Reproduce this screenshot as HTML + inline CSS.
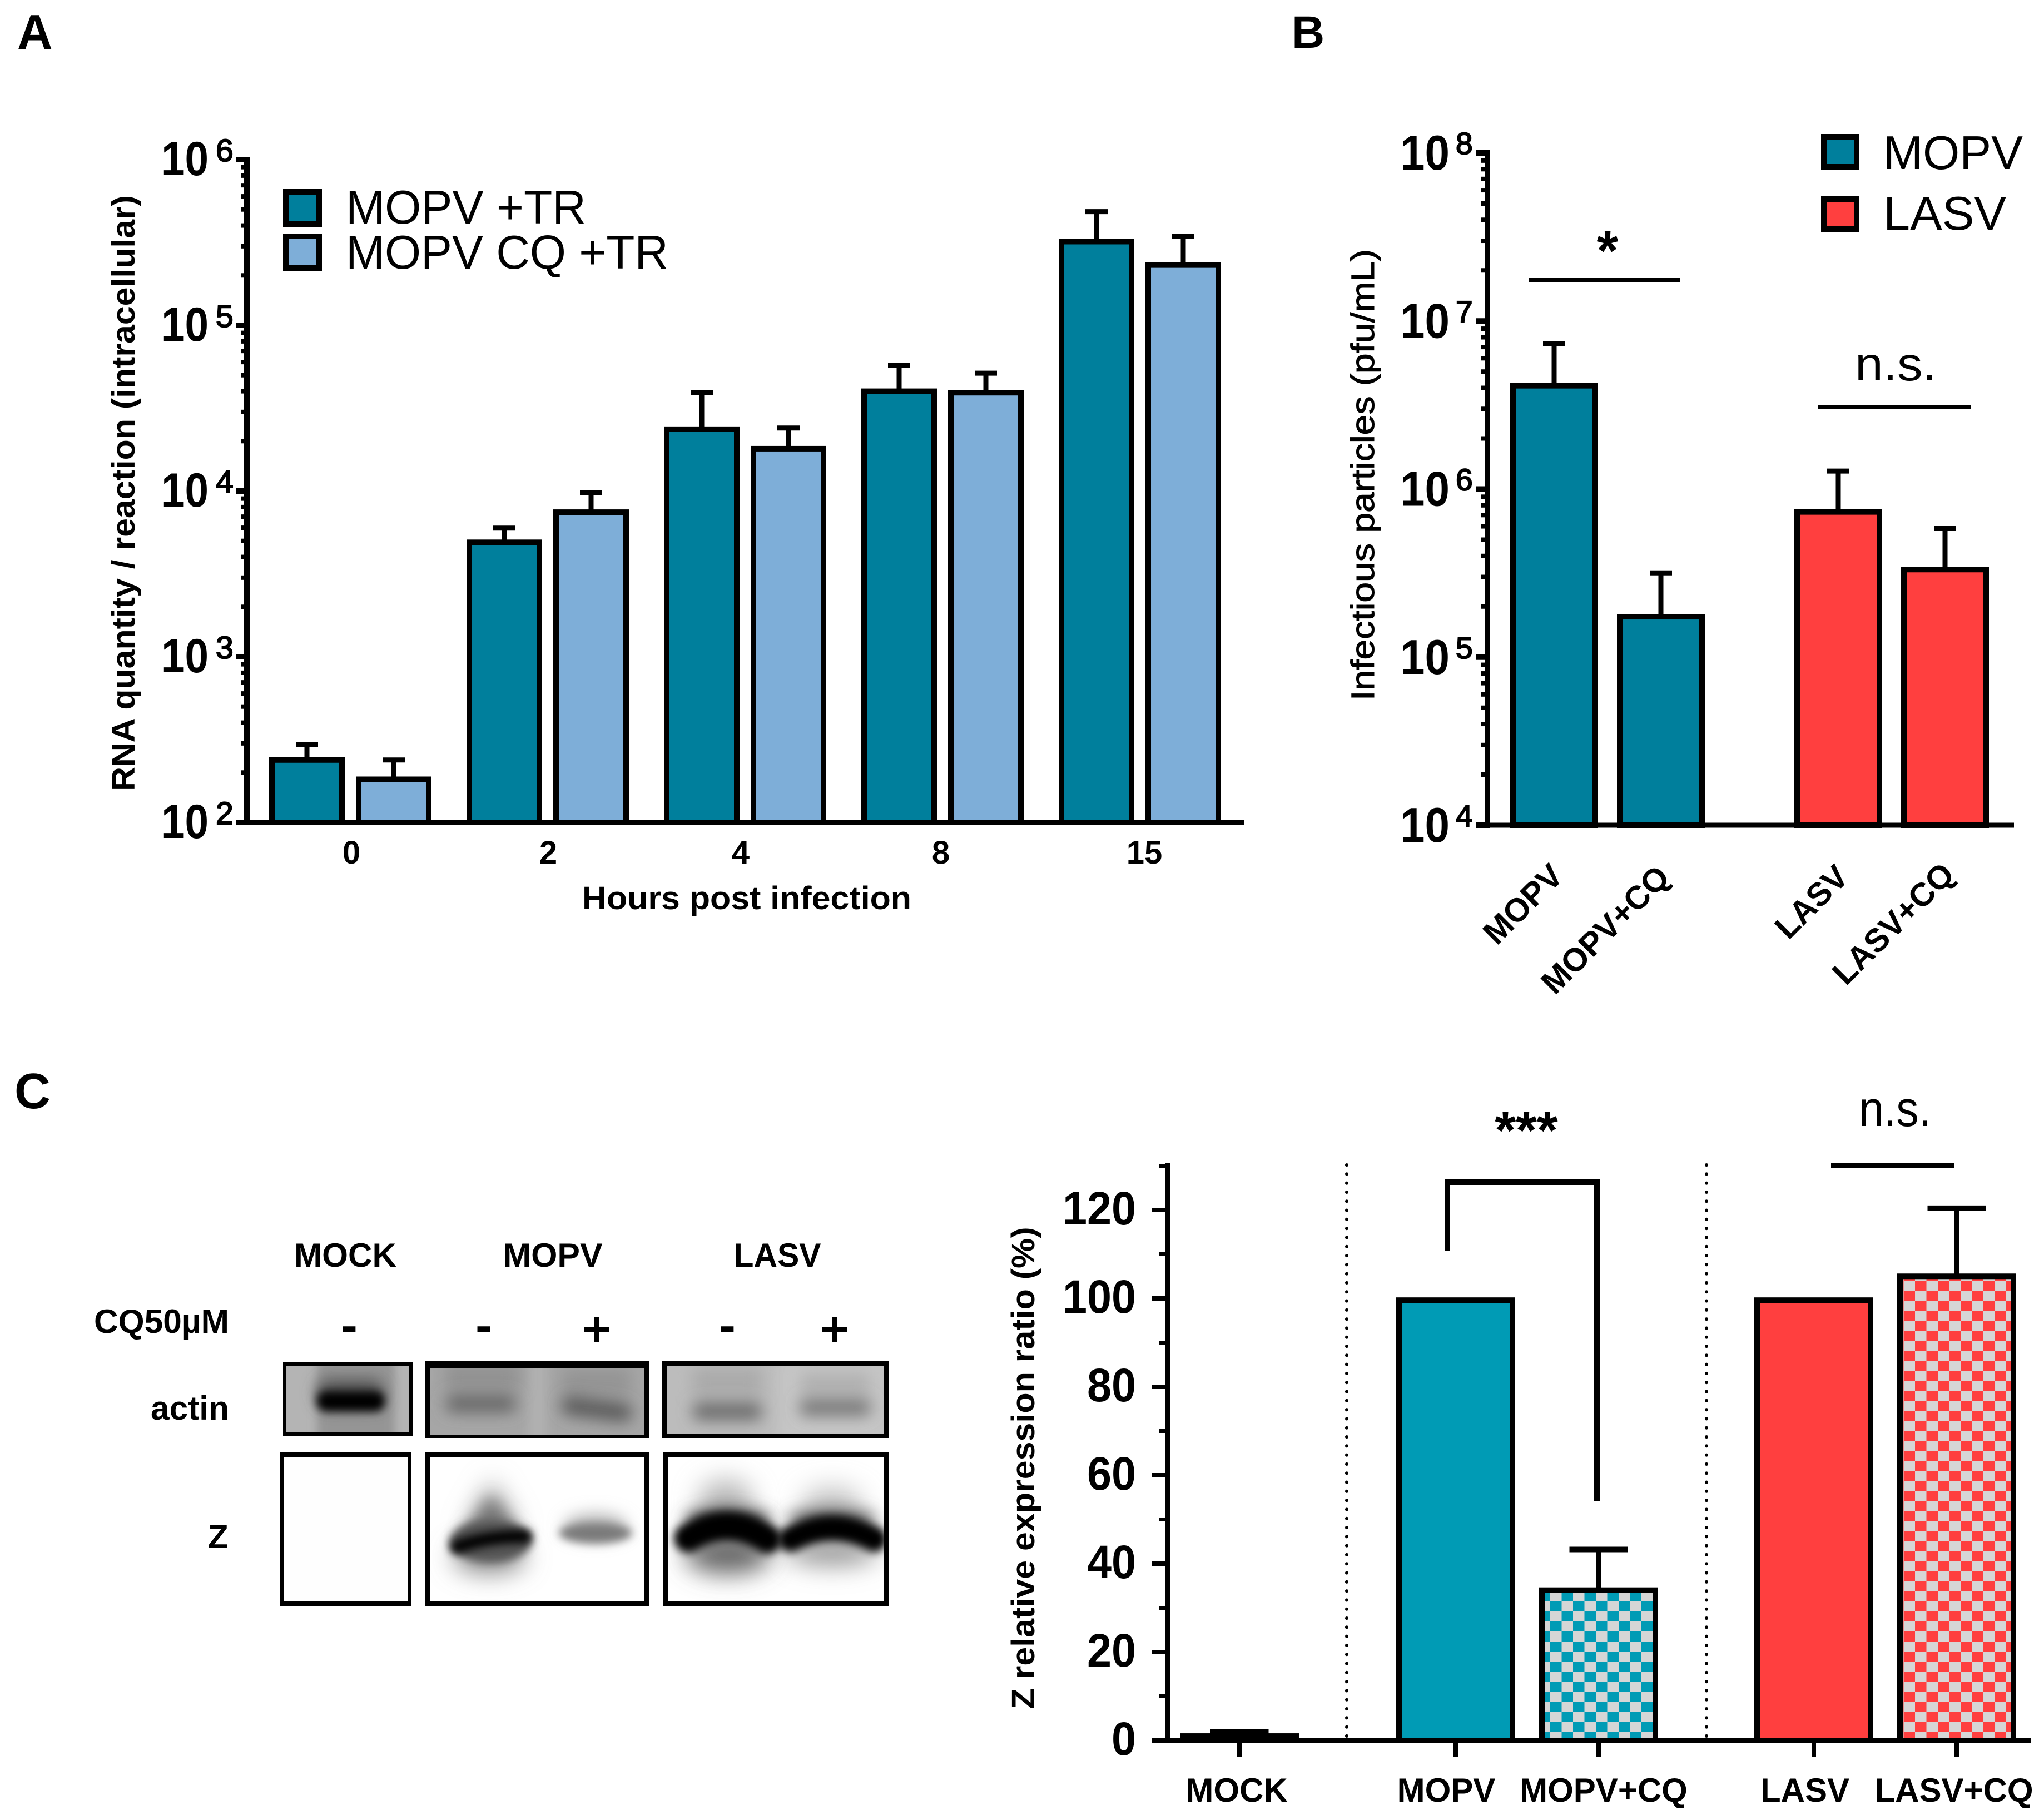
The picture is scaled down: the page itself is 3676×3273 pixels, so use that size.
<!DOCTYPE html>
<html lang="en">
<head>
<meta charset="utf-8">
<title>Chloroquine effect on MOPV and LASV</title>
<style>
html,body{margin:0;padding:0;background:#fff}
svg{display:block;font-family:"Liberation Sans",sans-serif}
</style>
</head>
<body>
<svg id="fig" xmlns="http://www.w3.org/2000/svg" width="3676" height="3273" viewBox="0 0 3676 3273">
<defs>
  <pattern id="chk-teal" width="41" height="36" patternUnits="userSpaceOnUse">
    <rect width="41" height="36" fill="#d6d6d6"/><rect width="20.5" height="18" fill="#009bb5"/><rect x="20.5" y="18" width="20.5" height="18" fill="#009bb5"/>
  </pattern>
  <pattern id="chk-red" width="41" height="36" patternUnits="userSpaceOnUse">
    <rect width="41" height="36" fill="#d6d6d6"/><rect width="20.5" height="18" fill="#ff3f3f"/><rect x="20.5" y="18" width="20.5" height="18" fill="#ff3f3f"/>
  </pattern>
  <filter id="blur-s" filterUnits="userSpaceOnUse" x="400" y="2400" width="1300" height="560"><feGaussianBlur stdDeviation="8"/></filter>
  <filter id="blur-m" filterUnits="userSpaceOnUse" x="400" y="2400" width="1300" height="560"><feGaussianBlur stdDeviation="14"/></filter>
  <filter id="blur-l" filterUnits="userSpaceOnUse" x="400" y="2400" width="1300" height="560"><feGaussianBlur stdDeviation="22"/></filter>
  <clipPath id="c-a1"><rect x="509" y="2450" width="233" height="133"/></clipPath>
  <clipPath id="c-a2"><rect x="764" y="2448" width="404" height="138"/></clipPath>
  <clipPath id="c-a3"><rect x="1191" y="2448" width="407" height="138"/></clipPath>
  <clipPath id="c-z2"><rect x="764" y="2612" width="404" height="276"/></clipPath>
  <clipPath id="c-z3"><rect x="1192" y="2612" width="406" height="276"/></clipPath>
</defs>

<text x="31" y="88" font-size="88" font-weight="700">A</text>
<text x="2323" y="86" font-size="82" font-weight="700">B</text>
<text x="26" y="1993" font-size="90" font-weight="700">C</text>

<!-- Panel A static text and legend -->
<g>
  <text transform="translate(242,887) rotate(-90)" text-anchor="middle" font-size="58" font-weight="700" textLength="1072" lengthAdjust="spacingAndGlyphs">RNA quantity / reaction (intracellular)</text>
  <text x="1047" y="1635" font-size="58" font-weight="700" textLength="592" lengthAdjust="spacingAndGlyphs">Hours post infection</text>
  <rect x="514" y="345" width="60" height="58" fill="#007f9c" stroke="#000" stroke-width="10"/>
  <text x="622" y="402" font-size="85" textLength="432" lengthAdjust="spacingAndGlyphs">MOPV +TR</text>
  <rect x="514" y="425" width="60" height="57" fill="#7eaed8" stroke="#000" stroke-width="10"/>
  <text x="622" y="483" font-size="85" textLength="580" lengthAdjust="spacingAndGlyphs">MOPV CQ +TR</text>
</g>

<!-- Panel B static text and legend -->
<g>
  <text transform="translate(2471,854) rotate(-90)" text-anchor="middle" font-size="58" stroke="#000" stroke-width="1" textLength="812" lengthAdjust="spacingAndGlyphs">Infectious particles (pfu/mL)</text>
  <rect x="3280" y="246" width="59" height="54" fill="#007f9c" stroke="#000" stroke-width="10"/>
  <text x="3387" y="304" font-size="85" textLength="251" lengthAdjust="spacingAndGlyphs">MOPV</text>
  <rect x="3280" y="358" width="59" height="54" fill="#ff3f3f" stroke="#000" stroke-width="10"/>
  <text x="3387" y="413" font-size="85" textLength="221" lengthAdjust="spacingAndGlyphs">LASV</text>
  <text x="2891" y="485" text-anchor="middle" font-size="100" font-weight="700">*</text>
  <line x1="2750" x2="3022" y1="504" y2="504" stroke="#000" stroke-width="8"/>
  <text x="3336" y="684" font-size="85" textLength="147" lengthAdjust="spacingAndGlyphs">n.s.</text>
  <line x1="3270" x2="3544" y1="732" y2="732" stroke="#000" stroke-width="8"/>
</g>

<!-- Panel C western blot -->
<g>
  <text x="621" y="2278" text-anchor="middle" font-size="60" font-weight="700" textLength="184" lengthAdjust="spacingAndGlyphs">MOCK</text>
  <text x="994" y="2278" text-anchor="middle" font-size="60" font-weight="700" textLength="179" lengthAdjust="spacingAndGlyphs">MOPV</text>
  <text x="1398" y="2278" text-anchor="middle" font-size="60" font-weight="700" textLength="157" lengthAdjust="spacingAndGlyphs">LASV</text>
  <text x="169" y="2397" font-size="60" font-weight="700" textLength="243" lengthAdjust="spacingAndGlyphs">CQ50µM</text>
  <text x="628" y="2414" text-anchor="middle" font-size="90" font-weight="700">-</text>
  <text x="870" y="2414" text-anchor="middle" font-size="90" font-weight="700">-</text>
  <text x="1073" y="2421" text-anchor="middle" font-size="90" font-weight="700">+</text>
  <text x="1308" y="2414" text-anchor="middle" font-size="90" font-weight="700">-</text>
  <text x="1501" y="2421" text-anchor="middle" font-size="90" font-weight="700">+</text>
  <text x="271" y="2553" font-size="60" font-weight="700" textLength="141" lengthAdjust="spacingAndGlyphs">actin</text>
  <text x="374" y="2784" font-size="60" font-weight="700">Z</text>

  <g>
    <rect x="509" y="2450" width="233" height="133" fill="#b4b4b4"/>
    <g clip-path="url(#c-a1)">
      <rect x="570" y="2440" width="140" height="160" fill="#959595" filter="url(#blur-s)"/>
      <rect x="570" y="2480" width="120" height="50" rx="20" fill="#555" filter="url(#blur-m)"/>
      <rect x="570" y="2502" width="122" height="36" rx="16" fill="#000" filter="url(#blur-s)"/>
    </g>
    <path fill-rule="evenodd" d="M509 2450H742V2583H509ZM515 2456V2576H736V2456Z" fill="#000"/>
  </g>
  <g>
    <rect x="764" y="2448" width="404" height="138" fill="#a6a6a6"/>
    <g clip-path="url(#c-a2)">
      <rect x="950" y="2440" width="34" height="160" fill="#b0b0b0" filter="url(#blur-s)"/>
      <rect x="800" y="2450" width="135" height="50" fill="#929292" filter="url(#blur-m)"/>
      <rect x="1010" y="2460" width="125" height="50" fill="#949494" filter="url(#blur-m)"/>
      <rect x="802" y="2508" width="126" height="32" rx="12" fill="#666" filter="url(#blur-m)"/>
      <path d="M1026 2528L1120 2540" stroke="#5a5a5a" stroke-width="34" stroke-linecap="round" fill="none" filter="url(#blur-m)"/>
    </g>
    <path fill-rule="evenodd" d="M764 2448H1168V2586H764ZM773 2460V2581H1159V2460Z" fill="#000"/>
  </g>
  <g>
    <rect x="1191" y="2448" width="407" height="138" fill="#bcbcbc"/>
    <g clip-path="url(#c-a3)">
      <rect x="1400" y="2440" width="200" height="160" fill="#c6c6c6" filter="url(#blur-m)"/>
      <rect x="1245" y="2460" width="125" height="50" fill="#aaa" filter="url(#blur-m)"/>
      <rect x="1440" y="2470" width="125" height="40" fill="#b0b0b0" filter="url(#blur-m)"/>
      <rect x="1246" y="2522" width="124" height="32" rx="12" fill="#6a6a6a" filter="url(#blur-m)"/>
      <rect x="1438" y="2516" width="128" height="30" rx="12" fill="#747474" filter="url(#blur-m)"/>
    </g>
    <path fill-rule="evenodd" d="M1191 2448H1598V2586H1191ZM1200 2456V2578H1589V2456Z" fill="#000"/>
  </g>

  <g>
    <rect x="503" y="2612" width="237" height="276" fill="#fefefe"/>
    <path fill-rule="evenodd" d="M503 2612H740V2888H503ZM510 2620V2879H733V2620Z" fill="#000"/>
  </g>
  <g>
    <rect x="764" y="2612" width="404" height="276" fill="#fff"/>
    <g clip-path="url(#c-z2)">
      <path d="M835 2750L885 2660L935 2750Z" fill="#aaa" filter="url(#blur-l)"/>
      <path d="M825 2765L883 2690L945 2765Z" fill="#777" filter="url(#blur-m)"/>
      <ellipse cx="880" cy="2800" rx="66" ry="30" fill="#8c8c8c" filter="url(#blur-l)"/>
      <ellipse cx="882" cy="2772" rx="74" ry="38" fill="#555" filter="url(#blur-s)"/>
      <path d="M822 2782Q878 2762 945 2763" stroke="#000" stroke-width="24" stroke-linecap="round" fill="none" filter="url(#blur-s)"/>
      <ellipse cx="1071" cy="2745" rx="58" ry="24" fill="#bbb" filter="url(#blur-m)"/>
      <ellipse cx="1071" cy="2757" rx="66" ry="18" fill="#7a7a7a" filter="url(#blur-s)"/>
    </g>
    <path fill-rule="evenodd" d="M764 2612H1168V2888H764ZM773 2620V2879H1159V2620Z" fill="#000"/>
  </g>
  <g>
    <rect x="1192" y="2612" width="406" height="276" fill="#fff"/>
    <g clip-path="url(#c-z3)">
      <ellipse cx="1305" cy="2700" rx="50" ry="40" fill="#bbb" filter="url(#blur-l)"/>
      <ellipse cx="1496" cy="2705" rx="55" ry="32" fill="#c8c8c8" filter="url(#blur-l)"/>
      <ellipse cx="1309" cy="2795" rx="78" ry="36" fill="#666" filter="url(#blur-l)"/>
      <ellipse cx="1496" cy="2790" rx="84" ry="26" fill="#999" filter="url(#blur-l)"/>
      <ellipse cx="1309" cy="2732" rx="80" ry="22" fill="#555" filter="url(#blur-m)"/>
      <ellipse cx="1496" cy="2732" rx="82" ry="20" fill="#666" filter="url(#blur-m)"/>
      <path d="M1238 2766Q1309 2722 1380 2768" stroke="#000" stroke-width="52" stroke-linecap="round" fill="none" filter="url(#blur-s)"/>
      <path d="M1422 2768Q1496 2728 1572 2768" stroke="#000" stroke-width="46" stroke-linecap="round" fill="none" filter="url(#blur-s)"/>
    </g>
    <path fill-rule="evenodd" d="M1192 2612H1598V2888H1192ZM1201 2620V2879H1589V2620Z" fill="#000"/>
  </g>
</g>

<!-- Panel C chart annotations -->
<g>
  <text transform="translate(1860,2640) rotate(-90)" text-anchor="middle" font-size="58" font-weight="700" textLength="867" lengthAdjust="spacingAndGlyphs">Z relative expression ratio (%)</text>
  <line x1="2422" x2="2422" y1="2095" y2="3125" stroke="#000" stroke-width="6" stroke-linecap="round" stroke-dasharray="0.1 16.2"/>
  <line x1="3069" x2="3069" y1="2095" y2="3125" stroke="#000" stroke-width="6" stroke-linecap="round" stroke-dasharray="0.1 16.2"/>
  <text x="2745" y="2066" text-anchor="middle" font-size="97" font-weight="700">***</text>
  <path d="M2603 2250V2126H2872V2699" fill="none" stroke="#000" stroke-width="10"/>
  <text x="3343" y="2025" font-size="90" textLength="130" lengthAdjust="spacingAndGlyphs">n.s.</text>
  <line x1="3293" x2="3515" y1="2096" y2="2096" stroke="#000" stroke-width="10"/>
</g>

<g id="chart-a"></g>
<g id="chart-b"></g>
<g id="chart-c"></g>
</svg>

<script>
/* ---------- chart A data ---------- */
const hoursA = ['0', '2', '4', '8', '15'];
const mopvTrA = [238, 4900, 23600, 40000, 320000];
const mopvCqTrA = [182, 7450, 18000, 39200, 231000];
const mopvTrErrTopA = [296, 5970, 39200, 57300, 485000];
const mopvCqTrErrTopA = [238, 9730, 24000, 51400, 344000];
const exponentsA = ['2', '3', '4', '5', '6'];

/* ---------- chart B data ---------- */
const categoriesB = ['MOPV', 'MOPV+CQ', 'LASV', 'LASV+CQ'];
const valuesB = [4120000, 174000, 731000, 332000];
const errTopB = [7300000, 317000, 1280000, 582000];
const exponentsB = ['4', '5', '6', '7', '8'];

/* ---------- chart C data ---------- */
const categoriesC = ['MOCK', 'MOPV', 'MOPV+CQ', 'LASV', 'LASV+CQ'];
const valuesC = [1, 99.6, 34, 99.6, 105];
const errTopC = [2, 99.6, 43.2, 99.6, 120.4];
const ticksC = ['0', '20', '40', '60', '80', '100', '120'];

const NS = 'http://www.w3.org/2000/svg';
function mk(parent, tag, props, txt) {
  const el = document.createElementNS(NS, tag);
  for (const k in props) el.setAttribute(k, props[k]);
  if (txt !== undefined) el.textContent = txt;
  parent.appendChild(el);
  return el;
}

/* ---------- axis functions ---------- */
const yA = v => 1479 - (Math.log10(v) - 2) * 298;
const xGroupA = i => 630 + i * 355;
const yB = v => 1484 - (Math.log10(v) - 4) * 302.25;
const xB = i => 2795 + (i % 2) * 192 + (i >= 2 ? 511 : 0);
const yC = v => 3130 - v * 7.95;
const xC = i => i === 0 ? 2229 : 2618 + ((i - 1) % 2) * 257 + (i >= 3 ? 644 : 0);

function drawLogAxis(g, scale, exps, axisX, tickLeft, minorLeft, tenX, tenLen, tenSize, tenDy, supX, supSize, supDy, xEnd, nm) {
  const first = +exps[0], last = +exps[exps.length - 1];
  for (let e = first; e < last; e++) {
    for (let m = 2; m <= 9; m++) {
      const y = scale(m * Math.pow(10, e));
      const t = mk(g, 'line', {x1: minorLeft, x2: axisX, y1: y, y2: y, stroke: '#000', 'stroke-width': 8});
      
      
    }
  }
  exps.forEach(ex => {
    const y = scale(Math.pow(10, +ex));
    const t = mk(g, 'line', {x1: tickLeft, x2: axisX, y1: y, y2: y, stroke: '#000', 'stroke-width': 10});
    
    
    const ten = mk(g, 'text', {x: tenX, y: y + tenDy, 'font-size': tenSize, 'font-weight': 700, textLength: tenLen, lengthAdjust: 'spacingAndGlyphs'}, '10');
    
    
    const sup = mk(g, 'text', {x: supX, y: y + supDy, 'font-size': supSize, stroke: '#000', 'stroke-width': 2}, ex);
    
    
  });
  const top = scale(Math.pow(10, last)), base = scale(Math.pow(10, first));
  const yl = mk(g, 'line', {x1: axisX, x2: axisX, y1: top - 5, y2: base + 5, stroke: '#000', 'stroke-width': 10});
  
  
  const xl = mk(g, 'line', {x1: tickLeft, x2: xEnd, y1: base, y2: base, stroke: '#000', 'stroke-width': 9});
  
  
}

function errBar(g, cx, yTop, yBar, capW, sw, nm) {
  const s = mk(g, 'path', {d: 'M' + (cx - capW / 2) + ' ' + yTop + 'H' + (cx + capW / 2) + 'M' + cx + ' ' + yTop + 'V' + yBar, fill: 'none', stroke: '#000', 'stroke-width': sw});
  
  
}

/* ---------- draw chart A ---------- */
(function () {
  const g = document.getElementById('chart-a');
  const base = yA(100);
  const series = [
    {vals: mopvTrA, errs: mopvTrErrTopA, off: -78, fill: '#007f9c', id: 'mopv-tr'},
    {vals: mopvCqTrA, errs: mopvCqTrErrTopA, off: 78, fill: '#7eaed8', id: 'mopv-cq-tr'}
  ];
  series.forEach(s => {
    hoursA.forEach((h, i) => {
      const cx = xGroupA(i) + s.off, y = yA(s.vals[i]);
      errBar(g, cx, yA(s.errs[i]), y, 40, 9, 'error-bar-' + s.id + '-' + h + 'h');
      const b = mk(g, 'rect', {x: cx - 63, y: y, width: 126, height: base - y, fill: s.fill, stroke: '#000', 'stroke-width': 10});
      
      
    });
  });
  const shift = [2, 1, -8, -3, 8];
  hoursA.forEach((h, i) => {
    const t = mk(g, 'text', {x: xGroupA(i) + shift[i], y: 1553, 'text-anchor': 'middle', 'font-size': 58, 'font-weight': 700}, h);
    
    
  });
  drawLogAxis(g, yA, exponentsA, 444, 425, 433, 290, 85, 86, 28, 388, 57, 3, 2237, 'chart-a');
})();

/* ---------- draw chart B ---------- */
(function () {
  const g = document.getElementById('chart-b');
  const base = yB(10000);
  const nudges = [[-56, 142], [-100, 188], [-48, 138], [-93, 177]];
  categoriesB.forEach((c, i) => {
    const cx = xB(i), y = yB(valuesB[i]);
    errBar(g, cx, yB(errTopB[i]), y, 40, 9, 'error-bar-' + c.toLowerCase().replace('+', '-'));
    const b = mk(g, 'rect', {x: cx - 74, y: y, width: 148, height: base - y, fill: i < 2 ? '#007f9c' : '#ff3f3f', stroke: '#000', 'stroke-width': 10});
    
    
    const lx = cx + nudges[i][0], ly = base + nudges[i][1];
    const t = mk(g, 'text', {transform: 'translate(' + lx + ',' + ly + ') rotate(-45)', 'text-anchor': 'middle', 'font-size': 59, 'font-weight': 700, dy: 20}, c);
    
    
  });
  drawLogAxis(g, yB, exponentsB, 2675, 2655, 2664, 2518, 89, 88, 30, 2618, 55, 2, 3622, 'chart-b');
})();

/* ---------- draw chart C ---------- */
(function () {
  const g = document.getElementById('chart-c');
  const base = yC(0);
  const fills = ['#000', '#009bb5', 'url(#chk-teal)', '#ff3f3f', 'url(#chk-red)'];
  const labelShift = [-5, -17, 9, -16, -5];
  categoriesC.forEach((c, i) => {
    const cx = xC(i), y = yC(valuesC[i]), id = c.toLowerCase().replace('+', '-');
    if (errTopC[i] > valuesC[i]) errBar(g, cx, yC(errTopC[i]), y, 105, 10, 'error-bar-' + id);
    const b = mk(g, 'rect', {x: cx - 102, y: y, width: 204, height: base - y, fill: fills[i], stroke: '#000', 'stroke-width': 10});
    
    
    const tk = mk(g, 'line', {x1: cx, x2: cx, y1: base, y2: base + 29, stroke: '#000', 'stroke-width': 8});
    
    
    const t = mk(g, 'text', {x: cx + labelShift[i], y: 3240, 'text-anchor': 'middle', 'font-size': 60, 'font-weight': 700}, c);
    
    
  });
  ticksC.forEach(v => {
    const y = yC(+v);
    const t = mk(g, 'line', {x1: 2072, x2: 2100, y1: y, y2: y, stroke: '#000', 'stroke-width': 8});
    
    
    const l = mk(g, 'text', {x: 2043, y: y + 26, 'text-anchor': 'end', 'font-size': 84, 'font-weight': 700, textLength: v.length * 44, lengthAdjust: 'spacingAndGlyphs'}, v);
    
    
    const m = mk(g, 'line', {x1: 2084, x2: 2100, y1: yC(+v + 10), y2: yC(+v + 10), stroke: '#000', 'stroke-width': 7});
    
    
  });
  const yl = mk(g, 'line', {x1: 2100, x2: 2100, y1: 2091, y2: base + 5, stroke: '#000', 'stroke-width': 9});
  
  
  const xl = mk(g, 'line', {x1: 2072, x2: 3653, y1: base, y2: base, stroke: '#000', 'stroke-width': 10});
  
  
})();
</script>
</body>
</html>
